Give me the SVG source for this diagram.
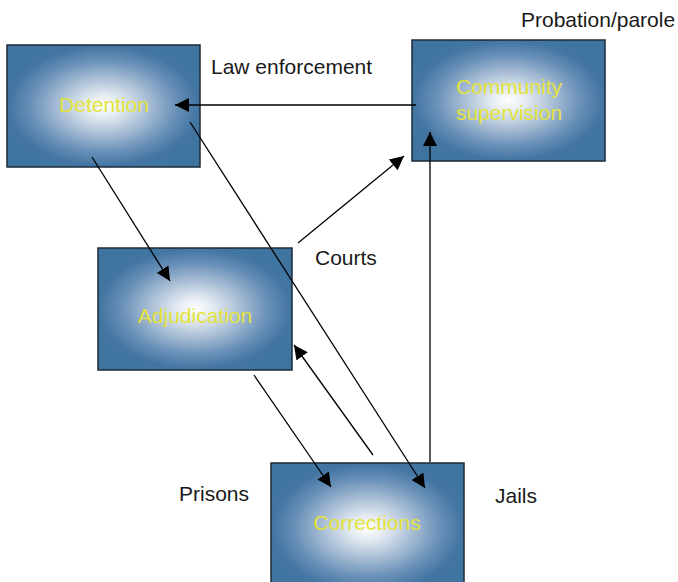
<svg xmlns="http://www.w3.org/2000/svg" width="678" height="582" viewBox="0 0 678 582">
<style>
.box{stroke:#1c2b3a;stroke-width:1.5}
.nt{font-family:"Liberation Sans",Arial,sans-serif;font-size:21px;fill:#e3e33a;text-anchor:middle}
.lb{font-family:"Liberation Sans",Arial,sans-serif;font-size:21px;fill:#1a1a1a}
.c{stroke:#000;stroke-width:1.3;fill:none;marker-end:url(#ah)}
</style>
<defs>
<radialGradient id="g" cx="0.5" cy="0.5" r="0.58">
<stop offset="0" stop-color="#ffffff"/>
<stop offset="0.15" stop-color="#e6ecf3"/>
<stop offset="0.4" stop-color="#a9bed5"/>
<stop offset="0.65" stop-color="#6990b8"/>
<stop offset="0.85" stop-color="#4275a2"/>
<stop offset="1" stop-color="#3f74a1"/>
</radialGradient>
<marker id="ah" viewBox="0 0 10 10" refX="10" refY="5" markerWidth="14" markerHeight="14" markerUnits="userSpaceOnUse" orient="auto">
<path d="M0,0 L10,5 L0,10 z" fill="#000"/>
</marker>
</defs>
<g id="detention"><rect class="box" x="7" y="45" width="193" height="122" fill="url(#g)"/><text class="nt" x="104" y="112">Detention</text></g>
<g id="community"><rect class="box" x="412" y="40" width="193" height="121" fill="url(#g)"/><text class="nt" x="509" y="94">Community</text><text class="nt" x="509" y="120">supervision</text></g>
<g id="adjudication"><rect class="box" x="98" y="248" width="194" height="122" fill="url(#g)"/><text class="nt" x="195" y="323">Adjudication</text></g>
<g id="corrections"><rect class="box" x="271" y="463" width="193" height="130" fill="url(#g)"/><text class="nt" x="367" y="530">Corrections</text></g>
<g id="connectors">
<line class="c" x1="416" y1="105" x2="175" y2="105"/>
<line class="c" x1="92" y1="157" x2="170" y2="281"/>
<line class="c" x1="190" y1="122" x2="425" y2="488"/>
<line class="c" x1="298" y1="243" x2="404" y2="156"/>
<line class="c" x1="254" y1="375" x2="331" y2="487"/>
<line class="c" x1="373" y1="455" x2="294" y2="345"/>
<line class="c" x1="430" y1="462" x2="430" y2="132"/>
</g>
<g id="labels">
<text class="lb" x="211" y="74">Law enforcement</text>
<text class="lb" x="521" y="27">Probation/parole</text>
<text class="lb" x="315" y="265">Courts</text>
<text class="lb" x="179" y="501">Prisons</text>
<text class="lb" x="495" y="503">Jails</text>
</g>
</svg>
